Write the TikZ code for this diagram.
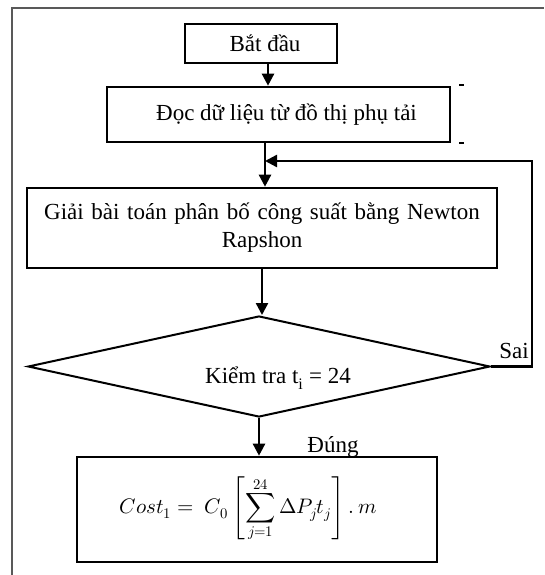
\documentclass[tikz,border=0pt]{standalone}
\usepackage{amsmath}
\usepackage{unicode-math}
\setmainfont{Liberation Serif}
\setmathfont{Latin Modern Math}
\usetikzlibrary{arrows.meta,shapes.geometric,calc}
\begin{document}
\begin{tikzpicture}[x=1pt,y=-1pt,
  txt/.style={font=\fontsize{23}{28}\selectfont},
  box/.style={draw,line width=2.6pt,inner sep=0pt,txt},
  dec/.style={draw,diamond,line width=2pt,inner sep=0pt,aspect=4.574,minimum width=462pt,minimum height=101pt},
  arr/.style={line width=2.4pt,-{Triangle[length=12pt,width=12pt]}},
  lbl/.style={txt,inner sep=0pt},
  frame/.style={draw=black!65,line width=1.6pt},
  tick/.style={line width=2pt}]
\useasboundingbox (0,0) rectangle (544,575);
\draw[frame] (12,575) |- (544,8);
\node[box,minimum width=152pt,minimum height=39pt] (start) at (261,43.5) {\hspace*{8pt}Bắt đầu};
\node[box,minimum width=343pt,minimum height=55pt] (read) at (278.5,114.5) {\hspace*{16pt}\raisebox{-5pt}{Đọc dữ liệu từ đồ thị phụ tải}};
\node[box,minimum width=470pt,minimum height=80pt,align=center,text width=460pt] (proc) at (262,228) {Giải bài toán phân bố công suất bằng Newton\\Rapshon};
\node[dec] (dec) at (259,366.5) {};
\node[lbl] (dtext) at (278,378) {Kiểm tra t\textsubscript{i} = 24};
\node[box,minimum width=360pt,minimum height=105pt,font=\fontsize{21}{25}\selectfont] (cost) at (257,509.5)
  {$\displaystyle Cost_1 =\ C_0\left[\sum_{j=1}^{24}\Delta P_j t_j\right].\,m$\hspace*{18pt}};
% ticks beside read box
\draw[tick] ($(read.north east)+(8,-1)$) -- ++(5,0);
\draw[tick] ($(read.south east)+(8,0)$) -- ++(5,0);
% arrows
\coordinate (a1) at (268,0);
\coordinate (a2) at (265,0);
\coordinate (fb) at (532,161);
\draw[arr] (start.south -| a1) -- (read.north -| a1);
\draw[arr] (read.south -| a2) -- (proc.north -| a2);
\draw[arr] (proc.south) -- (proc.south |- dec.north);
\draw[arr] (dec.south) -- (dec.south |- cost.north);
\draw[arr] (dec.east) -- (dec.east -| fb) -- (fb) -- (fb -| a2);
\node[lbl,anchor=base east] (sai) at (529,358) {Sai};
\node[lbl,anchor=base] (dung) at (333,452) {Đúng};
\end{tikzpicture}
\end{document}
